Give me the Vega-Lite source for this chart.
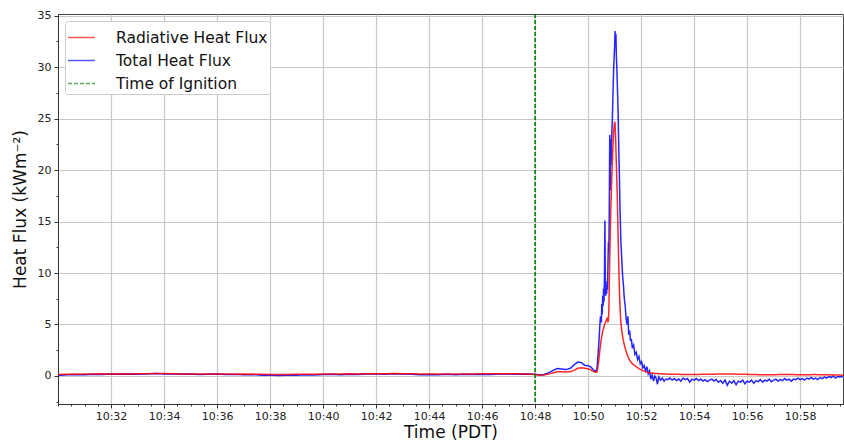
{
  "$schema": "https://vega.github.io/schema/vega-lite/v6.json",
  "width": 785,
  "height": 390,
  "autosize": "none",
  "padding": {"left": 58, "top": 14, "right": 1, "bottom": 37},
  "background": "white",
  "config": {"view": {"stroke": "#444", "strokeWidth": 1}},
  "data": {
    "values": [
      {"t":"2019-01-01T10:30:00","r":0.15,"b":0.05},{"t":"2019-01-01T10:30:20","r":0.17,"b":0.12},{"t":"2019-01-01T10:30:40","r":0.18,"b":0.15},
      {"t":"2019-01-01T10:31:00","r":0.2,"b":0.13},{"t":"2019-01-01T10:31:20","r":0.2,"b":0.18},{"t":"2019-01-01T10:31:40","r":0.21,"b":0.15},
      {"t":"2019-01-01T10:32:00","r":0.2,"b":0.2},{"t":"2019-01-01T10:32:20","r":0.21,"b":0.16},{"t":"2019-01-01T10:32:40","r":0.2,"b":0.19},
      {"t":"2019-01-01T10:33:00","r":0.22,"b":0.17},{"t":"2019-01-01T10:33:20","r":0.22,"b":0.2},{"t":"2019-01-01T10:33:40","r":0.24,"b":0.25},
      {"t":"2019-01-01T10:34:00","r":0.23,"b":0.2},{"t":"2019-01-01T10:34:20","r":0.22,"b":0.22},{"t":"2019-01-01T10:34:40","r":0.2,"b":0.17},
      {"t":"2019-01-01T10:35:00","r":0.2,"b":0.19},{"t":"2019-01-01T10:35:20","r":0.19,"b":0.15},{"t":"2019-01-01T10:35:40","r":0.2,"b":0.18},
      {"t":"2019-01-01T10:36:00","r":0.2,"b":0.2},{"t":"2019-01-01T10:36:20","r":0.19,"b":0.14},{"t":"2019-01-01T10:36:40","r":0.18,"b":0.16},
      {"t":"2019-01-01T10:37:00","r":0.19,"b":0.12},{"t":"2019-01-01T10:37:20","r":0.18,"b":0.15},{"t":"2019-01-01T10:37:40","r":0.16,"b":0.08},
      {"t":"2019-01-01T10:38:00","r":0.15,"b":0.1},{"t":"2019-01-01T10:38:20","r":0.14,"b":0.05},{"t":"2019-01-01T10:38:40","r":0.15,"b":0.09},
      {"t":"2019-01-01T10:39:00","r":0.16,"b":0.06},{"t":"2019-01-01T10:39:20","r":0.17,"b":0.12},{"t":"2019-01-01T10:39:40","r":0.18,"b":0.1},
      {"t":"2019-01-01T10:40:00","r":0.19,"b":0.14},{"t":"2019-01-01T10:40:20","r":0.2,"b":0.16},{"t":"2019-01-01T10:40:40","r":0.2,"b":0.13},
      {"t":"2019-01-01T10:41:00","r":0.21,"b":0.18},{"t":"2019-01-01T10:41:20","r":0.2,"b":0.15},{"t":"2019-01-01T10:41:40","r":0.21,"b":0.19},
      {"t":"2019-01-01T10:42:00","r":0.22,"b":0.2},{"t":"2019-01-01T10:42:20","r":0.22,"b":0.17},{"t":"2019-01-01T10:42:40","r":0.23,"b":0.21},
      {"t":"2019-01-01T10:43:00","r":0.22,"b":0.2},{"t":"2019-01-01T10:43:20","r":0.21,"b":0.16},{"t":"2019-01-01T10:43:40","r":0.2,"b":0.13},
      {"t":"2019-01-01T10:44:00","r":0.2,"b":0.15},{"t":"2019-01-01T10:44:20","r":0.2,"b":0.12},{"t":"2019-01-01T10:44:40","r":0.19,"b":0.16},
      {"t":"2019-01-01T10:45:00","r":0.19,"b":0.13},{"t":"2019-01-01T10:45:20","r":0.2,"b":0.17},{"t":"2019-01-01T10:45:40","r":0.2,"b":0.14},
      {"t":"2019-01-01T10:46:00","r":0.21,"b":0.18},{"t":"2019-01-01T10:46:20","r":0.21,"b":0.15},{"t":"2019-01-01T10:46:40","r":0.22,"b":0.19},
      {"t":"2019-01-01T10:47:00","r":0.22,"b":0.2},{"t":"2019-01-01T10:47:20","r":0.21,"b":0.17},{"t":"2019-01-01T10:47:40","r":0.2,"b":0.2},
      {"t":"2019-01-01T10:48:00","r":0.15,"b":0.18},{"t":"2019-01-01T10:48:10","r":0.08,"b":0.1},{"t":"2019-01-01T10:48:20","r":0.1,"b":0.14},
      {"t":"2019-01-01T10:48:30","r":0.18,"b":0.3},{"t":"2019-01-01T10:48:40","r":0.3,"b":0.52},{"t":"2019-01-01T10:48:50","r":0.4,"b":0.72},
      {"t":"2019-01-01T10:49:00","r":0.42,"b":0.68},{"t":"2019-01-01T10:49:10","r":0.38,"b":0.62},{"t":"2019-01-01T10:49:20","r":0.4,"b":0.75},
      {"t":"2019-01-01T10:49:30","r":0.6,"b":1.15},{"t":"2019-01-01T10:49:37","r":0.75,"b":1.35},{"t":"2019-01-01T10:49:45","r":0.8,"b":1.3},
      {"t":"2019-01-01T10:49:52","r":0.75,"b":1.05},{"t":"2019-01-01T10:50:00","r":0.7,"b":1.0},{"t":"2019-01-01T10:50:06","r":0.6,"b":0.88},
      {"t":"2019-01-01T10:50:12","r":0.45,"b":0.6},{"t":"2019-01-01T10:50:17","r":0.35,"b":0.42},{"t":"2019-01-01T10:50:20","r":0.4,"b":0.7},
      {"t":"2019-01-01T10:50:22","r":0.8,"b":1.8},{"t":"2019-01-01T10:50:24","r":1.5,"b":3.0},{"t":"2019-01-01T10:50:26","r":2.3,"b":4.5},
      {"t":"2019-01-01T10:50:28","r":3.0,"b":5.8},{"t":"2019-01-01T10:50:30","r":3.6,"b":5.2},{"t":"2019-01-01T10:50:31","r":3.9,"b":7.0},
      {"t":"2019-01-01T10:50:32","r":4.1,"b":6.0},{"t":"2019-01-01T10:50:33","r":4.3,"b":7.8},{"t":"2019-01-01T10:50:34","r":4.5,"b":6.8},
      {"t":"2019-01-01T10:50:35","r":4.6,"b":8.5},{"t":"2019-01-01T10:50:36","r":4.8,"b":7.2},{"t":"2019-01-01T10:50:37","r":5.0,"b":9.5},
      {"t":"2019-01-01T10:50:38","r":5.1,"b":15.1},{"t":"2019-01-01T10:50:39","r":5.2,"b":9.0},{"t":"2019-01-01T10:50:40","r":5.3,"b":7.8},
      {"t":"2019-01-01T10:50:41","r":5.4,"b":8.6},{"t":"2019-01-01T10:50:42","r":5.5,"b":8.0},{"t":"2019-01-01T10:50:43","r":5.6,"b":9.2},
      {"t":"2019-01-01T10:50:44","r":5.5,"b":8.4},{"t":"2019-01-01T10:50:45","r":5.3,"b":11.0},{"t":"2019-01-01T10:50:46","r":5.4,"b":13.0},
      {"t":"2019-01-01T10:50:47","r":6.5,"b":12.0},{"t":"2019-01-01T10:50:48","r":9.0,"b":16.5},{"t":"2019-01-01T10:50:49","r":11.5,"b":23.4},
      {"t":"2019-01-01T10:50:50","r":13.5,"b":18.0},{"t":"2019-01-01T10:50:51","r":15.5,"b":23.0},{"t":"2019-01-01T10:50:52","r":17.0,"b":20.5},
      {"t":"2019-01-01T10:50:53","r":18.5,"b":22.5},{"t":"2019-01-01T10:50:54","r":19.8,"b":24.0},{"t":"2019-01-01T10:50:55","r":21.0,"b":25.0},
      {"t":"2019-01-01T10:50:56","r":22.0,"b":27.0},{"t":"2019-01-01T10:50:57","r":23.0,"b":28.5},{"t":"2019-01-01T10:50:58","r":23.8,"b":30.0},
      {"t":"2019-01-01T10:50:59","r":24.3,"b":31.0},{"t":"2019-01-01T10:51:00","r":24.7,"b":32.0},{"t":"2019-01-01T10:51:01","r":24.5,"b":33.5},
      {"t":"2019-01-01T10:51:02","r":23.5,"b":32.5},{"t":"2019-01-01T10:51:03","r":22.0,"b":33.2},{"t":"2019-01-01T10:51:04","r":20.5,"b":31.0},
      {"t":"2019-01-01T10:51:05","r":19.0,"b":30.0},{"t":"2019-01-01T10:51:06","r":17.5,"b":28.5},{"t":"2019-01-01T10:51:07","r":15.5,"b":27.0},
      {"t":"2019-01-01T10:51:08","r":13.5,"b":25.5},{"t":"2019-01-01T10:51:09","r":11.5,"b":23.0},{"t":"2019-01-01T10:51:10","r":9.8,"b":21.0},
      {"t":"2019-01-01T10:51:11","r":8.2,"b":19.0},{"t":"2019-01-01T10:51:12","r":7.0,"b":16.5},{"t":"2019-01-01T10:51:13","r":6.0,"b":15.0},
      {"t":"2019-01-01T10:51:14","r":5.2,"b":13.2},{"t":"2019-01-01T10:51:16","r":4.5,"b":11.5},{"t":"2019-01-01T10:51:18","r":3.9,"b":9.8},
      {"t":"2019-01-01T10:51:20","r":3.4,"b":8.8},{"t":"2019-01-01T10:51:22","r":3.0,"b":7.5},{"t":"2019-01-01T10:51:24","r":2.7,"b":6.8},
      {"t":"2019-01-01T10:51:26","r":2.4,"b":5.6},{"t":"2019-01-01T10:51:28","r":2.1,"b":5.0},{"t":"2019-01-01T10:51:30","r":1.9,"b":5.8},
      {"t":"2019-01-01T10:51:32","r":1.7,"b":4.0},{"t":"2019-01-01T10:51:34","r":1.55,"b":4.4},{"t":"2019-01-01T10:51:36","r":1.4,"b":3.4},
      {"t":"2019-01-01T10:51:38","r":1.3,"b":3.6},{"t":"2019-01-01T10:51:40","r":1.2,"b":2.7},{"t":"2019-01-01T10:51:43","r":1.1,"b":3.0},
      {"t":"2019-01-01T10:51:46","r":1.0,"b":2.1},{"t":"2019-01-01T10:51:49","r":0.9,"b":2.3},{"t":"2019-01-01T10:51:52","r":0.8,"b":1.6},
      {"t":"2019-01-01T10:51:55","r":0.72,"b":1.9},{"t":"2019-01-01T10:51:58","r":0.65,"b":1.2},{"t":"2019-01-01T10:52:01","r":0.58,"b":1.4},
      {"t":"2019-01-01T10:52:04","r":0.52,"b":0.8},{"t":"2019-01-01T10:52:07","r":0.47,"b":1.0},{"t":"2019-01-01T10:52:10","r":0.42,"b":0.5},
      {"t":"2019-01-01T10:52:13","r":0.38,"b":0.9},{"t":"2019-01-01T10:52:16","r":0.35,"b":0.2},{"t":"2019-01-01T10:52:19","r":0.32,"b":0.5},
      {"t":"2019-01-01T10:52:22","r":0.3,"b":-0.3},{"t":"2019-01-01T10:52:25","r":0.28,"b":0.1},{"t":"2019-01-01T10:52:28","r":0.27,"b":-0.5},
      {"t":"2019-01-01T10:52:31","r":0.25,"b":0.0},{"t":"2019-01-01T10:52:34","r":0.24,"b":-0.2},{"t":"2019-01-01T10:52:37","r":0.23,"b":-0.8},
      {"t":"2019-01-01T10:52:40","r":0.22,"b":-0.1},{"t":"2019-01-01T10:52:44","r":0.21,"b":-0.4},{"t":"2019-01-01T10:52:48","r":0.2,"b":-0.2},
      {"t":"2019-01-01T10:52:52","r":0.2,"b":-0.5},{"t":"2019-01-01T10:52:56","r":0.19,"b":-0.3},
      {"t":"2019-01-01T10:53:00","r":0.18,"b":-0.35},{"t":"2019-01-01T10:53:05","r":0.18,"b":-0.2},{"t":"2019-01-01T10:53:10","r":0.17,"b":-0.4},
      {"t":"2019-01-01T10:53:15","r":0.17,"b":-0.25},{"t":"2019-01-01T10:53:20","r":0.16,"b":-0.45},{"t":"2019-01-01T10:53:25","r":0.16,"b":-0.3},
      {"t":"2019-01-01T10:53:30","r":0.15,"b":-0.5},{"t":"2019-01-01T10:53:35","r":0.15,"b":-0.2},{"t":"2019-01-01T10:53:40","r":0.15,"b":-0.35},
      {"t":"2019-01-01T10:53:45","r":0.14,"b":-0.25},{"t":"2019-01-01T10:53:50","r":0.14,"b":-0.6},{"t":"2019-01-01T10:53:55","r":0.14,"b":-0.3},
      {"t":"2019-01-01T10:54:00","r":0.14,"b":-0.4},{"t":"2019-01-01T10:54:05","r":0.15,"b":-0.25},{"t":"2019-01-01T10:54:10","r":0.15,"b":-0.45},
      {"t":"2019-01-01T10:54:15","r":0.16,"b":-0.3},{"t":"2019-01-01T10:54:20","r":0.16,"b":-0.5},{"t":"2019-01-01T10:54:25","r":0.17,"b":-0.35},
      {"t":"2019-01-01T10:54:30","r":0.17,"b":-0.55},{"t":"2019-01-01T10:54:35","r":0.18,"b":-0.4},{"t":"2019-01-01T10:54:40","r":0.18,"b":-0.3},
      {"t":"2019-01-01T10:54:45","r":0.18,"b":-0.5},{"t":"2019-01-01T10:54:50","r":0.19,"b":-0.35},{"t":"2019-01-01T10:54:55","r":0.19,"b":-0.6},
      {"t":"2019-01-01T10:55:00","r":0.2,"b":-0.45},{"t":"2019-01-01T10:55:05","r":0.2,"b":-0.7},{"t":"2019-01-01T10:55:10","r":0.2,"b":-0.4},
      {"t":"2019-01-01T10:55:15","r":0.2,"b":-0.9},{"t":"2019-01-01T10:55:20","r":0.2,"b":-0.5},{"t":"2019-01-01T10:55:25","r":0.19,"b":-0.7},
      {"t":"2019-01-01T10:55:30","r":0.19,"b":-0.45},{"t":"2019-01-01T10:55:35","r":0.18,"b":-0.85},{"t":"2019-01-01T10:55:40","r":0.18,"b":-0.5},
      {"t":"2019-01-01T10:55:45","r":0.17,"b":-0.6},{"t":"2019-01-01T10:55:50","r":0.17,"b":-0.4},{"t":"2019-01-01T10:55:55","r":0.16,"b":-0.75},
      {"t":"2019-01-01T10:56:00","r":0.16,"b":-0.5},{"t":"2019-01-01T10:56:05","r":0.15,"b":-0.6},{"t":"2019-01-01T10:56:10","r":0.15,"b":-0.4},
      {"t":"2019-01-01T10:56:15","r":0.14,"b":-0.7},{"t":"2019-01-01T10:56:20","r":0.14,"b":-0.45},{"t":"2019-01-01T10:56:25","r":0.13,"b":-0.55},
      {"t":"2019-01-01T10:56:30","r":0.13,"b":-0.35},{"t":"2019-01-01T10:56:35","r":0.12,"b":-0.6},{"t":"2019-01-01T10:56:40","r":0.12,"b":-0.4},
      {"t":"2019-01-01T10:56:45","r":0.12,"b":-0.5},{"t":"2019-01-01T10:56:50","r":0.12,"b":-0.3},{"t":"2019-01-01T10:56:55","r":0.12,"b":-0.55},
      {"t":"2019-01-01T10:57:00","r":0.13,"b":-0.4},{"t":"2019-01-01T10:57:05","r":0.13,"b":-0.3},{"t":"2019-01-01T10:57:10","r":0.14,"b":-0.5},
      {"t":"2019-01-01T10:57:15","r":0.14,"b":-0.35},{"t":"2019-01-01T10:57:20","r":0.15,"b":-0.45},{"t":"2019-01-01T10:57:25","r":0.15,"b":-0.25},
      {"t":"2019-01-01T10:57:30","r":0.15,"b":-0.4},{"t":"2019-01-01T10:57:35","r":0.15,"b":-0.3},{"t":"2019-01-01T10:57:40","r":0.14,"b":-0.5},
      {"t":"2019-01-01T10:57:45","r":0.14,"b":-0.3},{"t":"2019-01-01T10:57:50","r":0.13,"b":-0.35},{"t":"2019-01-01T10:57:55","r":0.13,"b":-0.2},
      {"t":"2019-01-01T10:58:00","r":0.12,"b":-0.35},{"t":"2019-01-01T10:58:05","r":0.12,"b":-0.25},{"t":"2019-01-01T10:58:10","r":0.12,"b":-0.4},
      {"t":"2019-01-01T10:58:15","r":0.12,"b":-0.2},{"t":"2019-01-01T10:58:20","r":0.13,"b":-0.3},{"t":"2019-01-01T10:58:25","r":0.13,"b":-0.15},
      {"t":"2019-01-01T10:58:30","r":0.14,"b":-0.3},{"t":"2019-01-01T10:58:35","r":0.14,"b":-0.2},{"t":"2019-01-01T10:58:40","r":0.13,"b":-0.35},
      {"t":"2019-01-01T10:58:45","r":0.13,"b":-0.15},{"t":"2019-01-01T10:58:50","r":0.12,"b":-0.25},{"t":"2019-01-01T10:58:55","r":0.12,"b":-0.1},
      {"t":"2019-01-01T10:59:00","r":0.11,"b":-0.2},{"t":"2019-01-01T10:59:05","r":0.11,"b":-0.05},{"t":"2019-01-01T10:59:10","r":0.1,"b":-0.15},
      {"t":"2019-01-01T10:59:15","r":0.1,"b":0.0},{"t":"2019-01-01T10:59:20","r":0.1,"b":-0.2},{"t":"2019-01-01T10:59:25","r":0.09,"b":-0.05},
      {"t":"2019-01-01T10:59:30","r":0.09,"b":-0.1},{"t":"2019-01-01T10:59:37","r":0.08,"b":-0.05}
    ]
  },
  "layer": [
    {
      "mark": {"type": "line", "opacity": 0},
      "encoding": {
        "x": {"field": "t", "type": "temporal",
          "axis": {"orient": "bottom", "tickCount": 60, "labels": false, "grid": false, "domain": false, "tickSize": 2, "tickColor": "#333", "title": null}},
        "y": {"field": "r", "type": "quantitative",
          "axis": {"orient": "left", "values": [-2.5, 2.5, 7.5, 12.5, 17.5, 22.5, 27.5, 32.5], "labels": false, "grid": false, "domain": false, "tickSize": 2, "tickColor": "#333", "title": null}}
      }
    },
    {
      "mark": {"type": "line", "stroke": "#0000ff", "strokeWidth": 1.5, "strokeOpacity": 0.85, "clip": true},
      "encoding": {
        "x": {"field": "t", "type": "temporal",
          "scale": {"domain": [{"year": 2019, "month": 1, "date": 1, "hours": 10, "minutes": 30, "seconds": 0}, {"year": 2019, "month": 1, "date": 1, "hours": 10, "minutes": 59, "seconds": 37}], "nice": false},
          "axis": {"orient": "bottom", "values": [
            {"year": 2019, "month": 1, "date": 1, "hours": 10, "minutes": 32},
            {"year": 2019, "month": 1, "date": 1, "hours": 10, "minutes": 34},
            {"year": 2019, "month": 1, "date": 1, "hours": 10, "minutes": 36},
            {"year": 2019, "month": 1, "date": 1, "hours": 10, "minutes": 38},
            {"year": 2019, "month": 1, "date": 1, "hours": 10, "minutes": 40},
            {"year": 2019, "month": 1, "date": 1, "hours": 10, "minutes": 42},
            {"year": 2019, "month": 1, "date": 1, "hours": 10, "minutes": 44},
            {"year": 2019, "month": 1, "date": 1, "hours": 10, "minutes": 46},
            {"year": 2019, "month": 1, "date": 1, "hours": 10, "minutes": 48},
            {"year": 2019, "month": 1, "date": 1, "hours": 10, "minutes": 50},
            {"year": 2019, "month": 1, "date": 1, "hours": 10, "minutes": 52},
            {"year": 2019, "month": 1, "date": 1, "hours": 10, "minutes": 54},
            {"year": 2019, "month": 1, "date": 1, "hours": 10, "minutes": 56},
            {"year": 2019, "month": 1, "date": 1, "hours": 10, "minutes": 58}],
            "format": "%H:%M", "grid": true, "gridColor": "#c8c8c8", "gridWidth": 1.2,
            "tickSize": 4, "tickColor": "#333", "domainColor": "#333",
            "labelFont": "DejaVu Sans", "labelFontSize": 11, "labelColor": "#222", "labelPadding": 2,
            "title": "Time (PDT)", "titleFont": "DejaVu Sans", "titleFontSize": 17, "titleFontWeight": "normal", "titleColor": "#111", "titlePadding": 3}},
        "y": {"field": "b", "type": "quantitative",
          "scale": {"domain": [-2.72, 35.15], "nice": false, "zero": false},
          "axis": {"orient": "left", "values": [0, 5, 10, 15, 20, 25, 30, 35], "grid": true, "gridColor": "#c8c8c8", "gridWidth": 1.2,
            "tickSize": 4, "tickColor": "#333", "domainColor": "#333",
            "labelFont": "DejaVu Sans", "labelFontSize": 11, "labelColor": "#222", "labelPadding": 3,
            "title": "Heat Flux (kWm⁻²)", "titleFont": "DejaVu Sans", "titleFontSize": 17, "titleFontWeight": "normal", "titleColor": "#111", "titlePadding": 8}},
        "color": {"datum": "Total Heat Flux", "type": "nominal",
          "scale": {"domain": ["Radiative Heat Flux", "Total Heat Flux", "Time of Ignition"], "range": ["#ff0000", "#0000ff", "#008000"]},
          "legend": {"title": null, "orient": "none", "legendX": 7, "legendY": 7,
            "symbolType": "stroke", "symbolSize": 729, "symbolStrokeWidth": 1.6, "symbolOpacity": 0.65,
            "labelOffset": 20, "labelFont": "DejaVu Sans", "labelFontSize": 15.5, "labelColor": "#111",
            "padding": 2, "rowPadding": -4, "fillColor": "white", "strokeColor": "#cccccc", "cornerRadius": 3,
            "labelLimit": 300,
            "encode": {"symbols": {"update": {"strokeDash": {"signal": "datum.value === 'Time of Ignition' ? [4, 2] : [1, 0]"}}}}}}
      }
    },
    {
      "mark": {"type": "line", "stroke": "#ff0000", "strokeWidth": 1.5, "strokeOpacity": 0.85, "clip": true},
      "encoding": {
        "x": {"field": "t", "type": "temporal", "axis": null},
        "y": {"field": "r", "type": "quantitative", "axis": null},
        "color": {"datum": "Radiative Heat Flux", "type": "nominal"}
      }
    },
    {
      "data": {"values": [{"t": "2019-01-01T10:48:00"}]},
      "mark": {"type": "rule", "strokeDash": [4, 2], "strokeWidth": 1.6},
      "encoding": {
        "x": {"field": "t", "type": "temporal", "axis": null},
        "color": {"datum": "Time of Ignition", "type": "nominal"}
      }
    }
  ],
  "resolve": {"axis": {"x": "independent", "y": "independent"}}
}
